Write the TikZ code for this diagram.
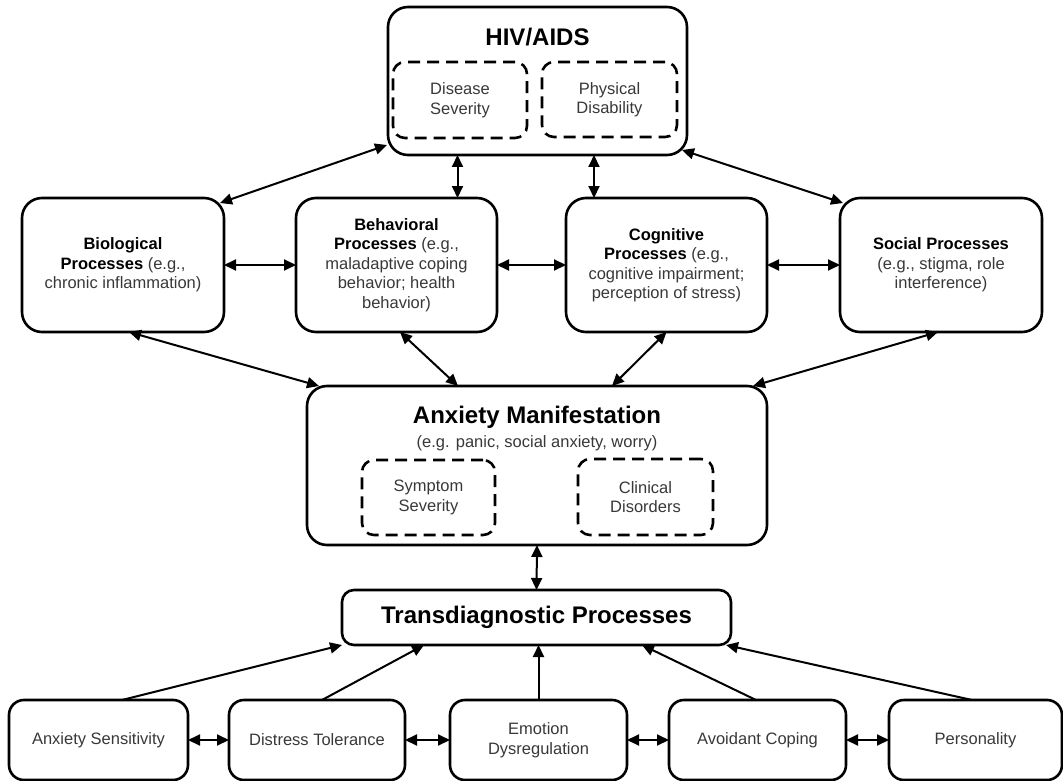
\documentclass[tikz,border=0pt]{standalone}
\usepackage{fontspec}
\setmainfont{Liberation Sans}
\usetikzlibrary{arrows.meta}

\newcommand{\headtxt}[1]{\textcolor{black}{\bfseries #1}}

\tikzset{
  procbox/.style={draw, line width=2.6pt, rounded corners=20pt, inner sep=0pt,
    outer sep=0pt, align=center, text=black!78,
    font=\fontsize{16.5}{19.5}\selectfont},
  lowbox/.style={procbox, rounded corners=15pt, minimum width=177pt, minimum height=80pt},
  dashbox/.style={procbox, dash pattern=on 12pt off 7pt, rounded corners=12pt},
  bigtitle/.style={font=\fontsize{24}{28}\selectfont\bfseries, inner sep=0pt},
  link/.style={{Triangle[length=12pt,width=11pt]}-{Triangle[length=12pt,width=11pt]}, line width=2pt},
  feed/.style={-{Triangle[length=12pt,width=11pt]}, line width=2pt}
}

\begin{document}
\begin{tikzpicture}[x=1pt,y=-1pt]
\useasboundingbox (0,0) rectangle (1063,781);

% top box
\node[procbox, minimum width=299pt, minimum height=148pt] (hiv) at (537.5,81) {};
\node[bigtitle] (hivtitle) at (537.5,37) {HIV/AIDS};
\node[dashbox, minimum width=134pt, minimum height=76pt] (sev) at (460,100) {Disease\\Severity};
\node[dashbox, minimum width=135pt, minimum height=75pt] (dis) at (609.5,99.5) {Physical\\Disability};

% middle row
\node[procbox, minimum width=202pt, minimum height=134pt] (bio) at (123,265)
  {\headtxt{Biological}\\\headtxt{Processes} (e.g.,\\chronic inflammation)};
\node[procbox, minimum width=201pt, minimum height=134pt] (beh) at (396.5,265)
  {\headtxt{Behavioral}\\\headtxt{Processes} (e.g.,\\maladaptive coping\\behavior; health\\behavior)};
\node[procbox, minimum width=201pt, minimum height=134pt] (cog) at (666.5,265)
  {\headtxt{Cognitive}\\\headtxt{Processes} (e.g.,\\cognitive impairment;\\perception of stress)};
\node[procbox, minimum width=202pt, minimum height=134pt] (soc) at (941,265)
  {\headtxt{Social Processes}\\(e.g., stigma, role\\interference)};

% anxiety box
\node[procbox, minimum width=460pt, minimum height=159pt] (anx) at (537,465.5) {};
\node[bigtitle] (anxtitle) at (537,417) {Anxiety Manifestation};
\node[inner sep=0pt, text=black!78, font=\fontsize{16.5}{19.5}\selectfont] (anxsub) at (537,443)
  {(e.g. panic, social anxiety, worry)};
\node[dashbox, minimum width=133pt, minimum height=75pt] (sym) at (428.5,497.5) {Symptom\\Severity};
\node[dashbox, minimum width=135pt, minimum height=76pt] (cli) at (645.5,497) {Clinical\\Disorders};

% transdiagnostic
\node[procbox, rounded corners=12pt, minimum width=389pt, minimum height=55pt,
  font=\fontsize{24}{28}\selectfont\bfseries, text=black] (trans) at (536.5,617.5) {Transdiagnostic Processes};

% bottom row
\node[lowbox, minimum width=179pt] (sens) at (98.5,740) {Anxiety Sensitivity};
\node[lowbox, minimum width=176pt] (tol) at (317,740) {Distress Tolerance};
\node[lowbox] (emo) at (538.5,740) {Emotion\\Dysregulation};
\node[lowbox] (avo) at (757.5,740) {Avoidant Coping};
\node[lowbox, minimum width=173pt] (pers) at (975.5,740) {Personality};

% links to HIV/AIDS
\draw[link] ([xshift=-4pt,yshift=-5pt]bio.north east) -- ([xshift=-1pt,yshift=10pt]hiv.south west);
\draw[link] ([xshift=-5pt,yshift=5pt]hiv.south east) -- ([xshift=3pt,yshift=-5pt]soc.north west);
\draw[link] ([xshift=-80pt]hiv.south) -- ([xshift=-80pt]hiv.south |- beh.north);
\draw[link] ([xshift=56.5pt]hiv.south) -- ([xshift=56.5pt]hiv.south |- cog.north);

% links along the row
\draw[link] (bio.east) -- (beh.west);
\draw[link] (beh.east) -- (cog.west);
\draw[link] (cog.east) -- (soc.west);

% links to anxiety
\draw[link] ([xshift=6pt]bio.south) -- ([xshift=12pt]anx.north west);
\draw[link] ([xshift=3.5pt]beh.south) -- ([xshift=-79pt]anx.north);
\draw[link] (cog.south) -- ([xshift=75pt]anx.north);
\draw[link] ([xshift=-3pt]soc.south) -- ([xshift=-14pt]anx.north east);
\draw[link] (anx.south) -- (trans.north);

% feeding processes
\draw[feed] ([xshift=23.5pt]sens.north) -- (trans.south west);
\draw[feed] ([xshift=5pt]tol.north) -- ([xshift=-112.5pt]trans.south);
\draw[feed] (emo.north) -- (emo.north |- trans.south);
\draw[feed] ([xshift=-1.5pt]avo.north) -- ([xshift=105.5pt]trans.south);
\draw[feed] ([xshift=-3.5pt]pers.north) -- ([xshift=-5pt]trans.south east);

\draw[link] (sens.east) -- (tol.west);
\draw[link] (tol.east) -- (emo.west);
\draw[link] (emo.east) -- (avo.west);
\draw[link] (avo.east) -- (pers.west);

\end{tikzpicture}
\end{document}
